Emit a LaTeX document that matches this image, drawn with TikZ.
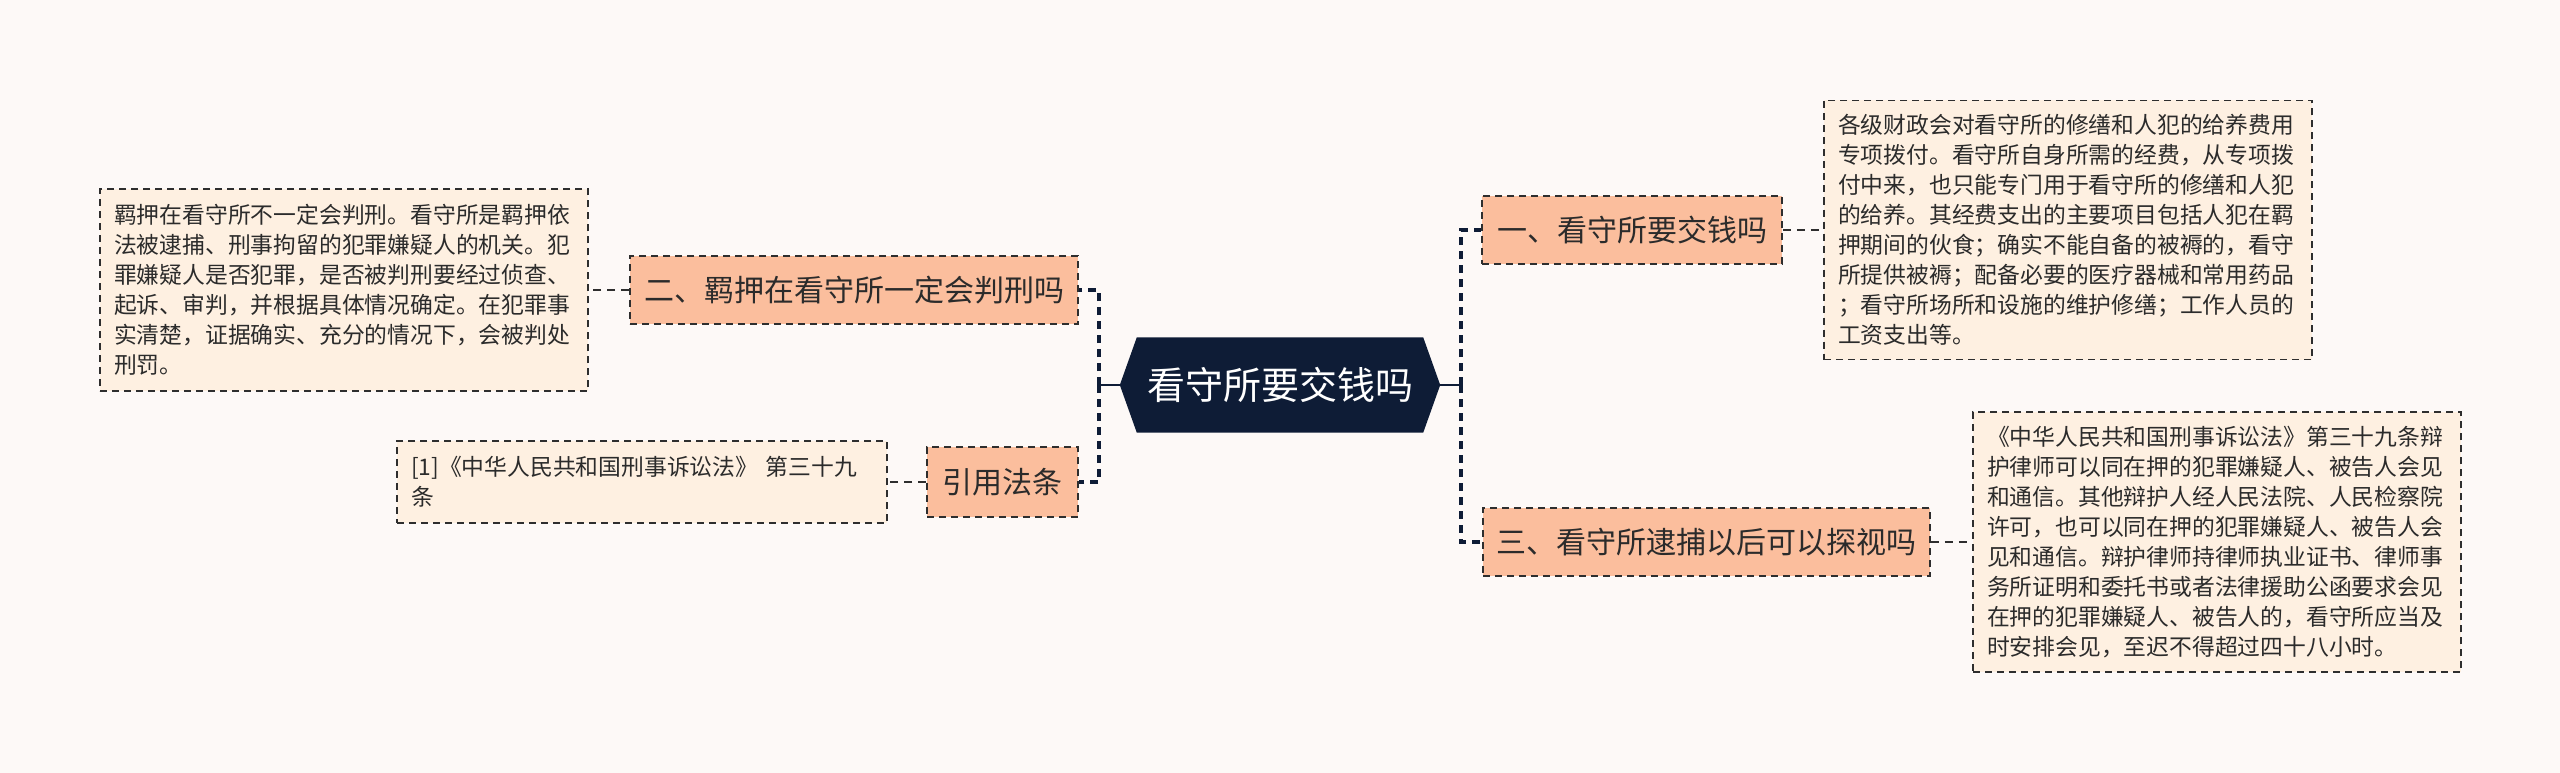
\documentclass[tikz,border=0pt]{standalone}
\usepackage{fontspec}
\setmainfont{Noto Sans CJK SC}
\usetikzlibrary{calc,backgrounds}
\definecolor{bgc}{HTML}{FDF9F7}
\definecolor{navy}{HTML}{0E1C36}
\definecolor{salmon}{HTML}{FBBE9D}
\definecolor{cream}{HTML}{FEF0E1}
\definecolor{txt}{HTML}{2B2B2B}
\definecolor{edge}{HTML}{2E2E2E}
\tikzset{
  x=1pt, y=-1pt,
  boxdash/.style={dash pattern=on 7pt off 5pt, line width=1.8pt, draw=edge},
  branch/.style={rectangle, boxdash, fill=salmon, text=txt, inner sep=0pt,
    minimum height=68pt, font=\fontsize{30}{36}\selectfont},
  leaf/.style={rectangle, boxdash, fill=cream, text=txt, inner xsep=14pt, inner ysep=0pt,
    align=left, font=\fontsize{22.8}{30}\selectfont},
  hexnode/.style={rectangle, draw=none, inner sep=0pt, minimum width=286pt,
    minimum height=95pt, text=white, font=\fontsize{38}{46}\selectfont},
  trunk/.style={draw=navy, line width=3.2pt, dash pattern=on 8pt off 6pt},
  solidconn/.style={draw=navy, line width=2.2pt},
  leafconn/.style={draw=edge, line width=1.8pt, dash pattern=on 8pt off 6pt},
}
\begin{document}
\begin{tikzpicture}
\useasboundingbox (0,0) rectangle (2560,773);

% center
\node[hexnode] (c) at (1280,385) {看守所要交钱吗};
\begin{scope}[on background layer]
\fill[bgc] (0,0) rectangle (2560,773);
\fill[navy] (c.north west) -- (c.north east) -- ($(c.east)+(17,0)$) -- (c.south east)
  -- (c.south west) -- ($(c.west)+(-17,0)$) -- cycle;
\end{scope}
\coordinate (cl) at ($(c.west)+(-17,0)$);
\coordinate (cr) at ($(c.east)+(17,0)$);
\coordinate (jl) at (1099,385);
\coordinate (jr) at (1461,385);

% branches
\node[branch, minimum width=448pt] (n2) at (854,290) {二、羁押在看守所一定会判刑吗};
\node[branch, minimum width=151pt, minimum height=70pt] (ncite) at (1002.5,482) {引用法条};
\node[branch, minimum width=300pt] (n1) at (1632,230) {一、看守所要交钱吗};
\node[branch, minimum width=447pt] (n3) at (1706.5,542) {三、看守所逮捕以后可以探视吗};

% leaves
\node[leaf, text width=460pt, minimum height=202pt] (leafL) at (344,290) {羁押在看守所不一定会判刑。看守所是羁押依\\法被逮捕、刑事拘留的犯罪嫌疑人的机关。犯\\罪嫌疑人是否犯罪，是否被判刑要经过侦查、\\起诉、审判，并根据具体情况确定。在犯罪事\\实清楚，证据确实、充分的情况下，会被判处\\刑罚。};
\node[leaf, text width=462pt, minimum height=82pt] (cite) at (642,482) {[1]《中华人民共和国刑事诉讼法》 第三十九\\条};
\node[leaf, text width=460pt, minimum height=259pt] (leafR1) at (2068,230) {各级财政会对看守所的修缮和人犯的给养费用\\专项拨付。看守所自身所需的经费，从专项拨\\付中来，也只能专门用于看守所的修缮和人犯\\的给养。其经费支出的主要项目包括人犯在羁\\押期间的伙食；确实不能自备的被褥的，看守\\所提供被褥；配备必要的医疗器械和常用药品\\；看守所场所和设施的维护修缮；工作人员的\\工资支出等。};
\node[leaf, text width=460pt, minimum height=260pt] (leafR2) at (2217,542) {《中华人民共和国刑事诉讼法》第三十九条辩\\护律师可以同在押的犯罪嫌疑人、被告人会见\\和通信。其他辩护人经人民法院、人民检察院\\许可，也可以同在押的犯罪嫌疑人、被告人会\\见和通信。辩护律师持律师执业证书、律师事\\务所证明和委托书或者法律援助公函要求会见\\在押的犯罪嫌疑人、被告人的，看守所应当及\\时安排会见，至迟不得超过四十八小时。};

% connectors
\draw[solidconn] (cl) -- (jl);
\draw[solidconn] (cr) -- (jr);
\draw[trunk] (jl) |- (n2.east);
\draw[trunk] (jl) |- (ncite.east);
\draw[trunk] (jr) |- (n1.west);
\draw[trunk] (jr) |- (n3.west);
\draw[leafconn] (n2.west) -- (leafL.east);
\draw[leafconn] (ncite.west) -- (cite.east);
\draw[leafconn] (n1.east) -- (leafR1.west);
\draw[leafconn] (n3.east) -- (leafR2.west);
\end{tikzpicture}
\end{document}
